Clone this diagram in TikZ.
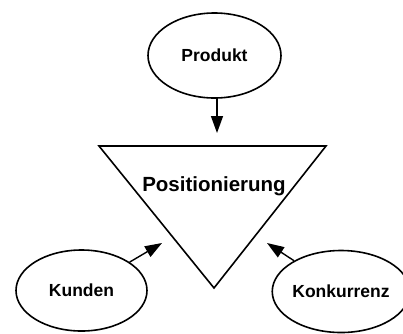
\documentclass[tikz,border=0pt]{standalone}
\usepackage{fontspec}
\setmainfont{Liberation Sans}
\usetikzlibrary{shapes.geometric,arrows.meta}

\begin{document}
\begin{tikzpicture}[x=1pt,y=-1pt,
    ell/.style={ellipse, draw, line width=1.6pt, inner sep=0pt, font=\fontsize{17.5}{20}\selectfont\bfseries},
    arr/.style={-{Triangle[length=17pt,width=12pt]}, line width=1.4pt}]
    \useasboundingbox (0,0) rectangle (403,333);
    \clip (0,0) rectangle (403,333);

    \foreach \name/\x/\y/\w/\h/\labeltext in {
        produkt/214.5/55.5/133/85/Produkt,
        kunden/81.5/290.5/131/81/Kunden,
        konkurrenz/341/291.5/126/82/Konkurrenz}
    {
        \node[ell, minimum width=\w pt, minimum height=\h pt] (\name) at (\x,\y) {\labeltext};
    }

    \coordinate (top left) at (99,146);
    \coordinate (top right) at (326,146);
    \coordinate (tip) at (214,288);
    \draw[line width=1.6pt, line join=miter] (top left) -- (top right) -- (tip) -- cycle;
    \node[font=\fontsize{20.5}{24}\selectfont\bfseries] (pos) at (214,186) {Positionierung};

    \coordinate (pin) at (217,133);
    \coordinate (kin) at (162,243);
    \coordinate (koin) at (267,243);
    \draw[arr] (produkt.south -| pin) -- (pin);
    \draw[arr] (kunden) -- (kin);
    \draw[arr] (konkurrenz) -- (koin);
\end{tikzpicture}
\end{document}
